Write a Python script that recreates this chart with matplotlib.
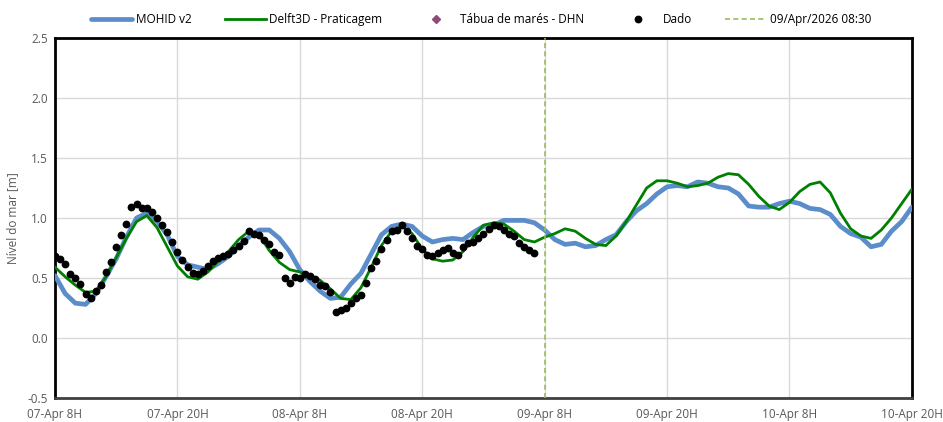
# -*- coding: utf-8 -*-
''' Nivel do mar: MOHID x Delft3D x dado observado
'''

from matplotlib import pyplot as plt


# horas desde 07-Apr 8H
horas_modelo = list(range(85))

mohid = [0.52, 0.37, 0.29, 0.28, 0.37, 0.51, 0.66, 0.84, 1.00, 1.04,
         0.97, 0.86, 0.68, 0.61, 0.59, 0.57, 0.62, 0.68, 0.77, 0.84,
         0.90, 0.90, 0.83, 0.72, 0.57, 0.47, 0.39, 0.33, 0.34, 0.45,
         0.54, 0.70, 0.86, 0.93, 0.95, 0.93, 0.85, 0.80, 0.82, 0.83,
         0.82, 0.88, 0.93, 0.94, 0.98, 0.98, 0.98, 0.96, 0.90, 0.82,
         0.78, 0.79, 0.76, 0.77, 0.82, 0.86, 0.97, 1.06, 1.12, 1.20,
         1.26, 1.27, 1.26, 1.30, 1.29, 1.26, 1.25, 1.20, 1.10, 1.09,
         1.09, 1.12, 1.14, 1.12, 1.08, 1.07, 1.03, 0.93, 0.87, 0.84,
         0.76, 0.78, 0.89, 0.97, 1.09]

delft = [0.59, 0.51, 0.44, 0.38, 0.39, 0.51, 0.67, 0.83, 0.97, 1.02,
         0.92, 0.76, 0.60, 0.51, 0.49, 0.55, 0.64, 0.72, 0.82, 0.89,
         0.86, 0.73, 0.63, 0.57, 0.55, 0.52, 0.48, 0.41, 0.33, 0.32,
         0.42, 0.59, 0.77, 0.89, 0.93, 0.87, 0.74, 0.66, 0.64, 0.65,
         0.72, 0.84, 0.94, 0.96, 0.95, 0.89, 0.82, 0.80, 0.84, 0.87,
         0.91, 0.89, 0.83, 0.78, 0.77, 0.85, 0.97, 1.11, 1.25, 1.31,
         1.31, 1.29, 1.26, 1.27, 1.29, 1.34, 1.37, 1.36, 1.28, 1.18,
         1.10, 1.07, 1.13, 1.22, 1.28, 1.30, 1.21, 1.04, 0.91, 0.85,
         0.83, 0.90, 1.00, 1.12, 1.24]

# dado observado, a cada meia hora
horas_dado = [i * 0.5 for i in range(95)]
dado = [0.68, 0.66, 0.62, 0.53, 0.50, 0.45, 0.37, 0.33, 0.39, 0.44,
        0.55, 0.63, 0.76, 0.86, 0.95, 1.09, 1.12, 1.08, 1.08, 1.05,
        1.00, 0.94, 0.88, 0.80, 0.72, 0.65, 0.59, 0.54, 0.53, 0.56,
        0.60, 0.64, 0.67, 0.68, 0.70, 0.73, 0.77, 0.81, 0.89, 0.87,
        0.86, 0.82, 0.78, 0.72, 0.69, 0.50, 0.46, 0.51, 0.50, 0.53,
        0.52, 0.49, 0.44, 0.43, 0.38, 0.22, 0.23, 0.25, 0.29, 0.33,
        0.36, 0.46, 0.58, 0.64, 0.74, 0.82, 0.89, 0.90, 0.94, 0.89,
        0.83, 0.77, 0.74, 0.69, 0.68, 0.71, 0.73, 0.75, 0.71, 0.69,
        0.76, 0.79, 0.80, 0.83, 0.87, 0.91, 0.94, 0.93, 0.90, 0.87,
        0.85, 0.79, 0.76, 0.73, 0.71]

# tabua de mares (sem valores no periodo)
horas_tabua = []
tabua = []

ticks_h = [0, 12, 24, 36, 48, 60, 72, 84]
ticks_lab = ['07-Apr 8H', '07-Apr 20H', '08-Apr 8H', '08-Apr 20H',
             '09-Apr 8H', '09-Apr 20H', '10-Apr 8H', '10-Apr 20H']

agora_h = 48
agora_lab = '09/Apr/2026 08:30'


plt.rcParams['font.family'] = ['Open Sans', 'DejaVu Sans']
cinza = '#595959'

fig = plt.figure(figsize=(9.43, 4.22), dpi=100)
ax = fig.add_axes([0.0583, 0.0569, 0.9087, 0.8531])

ax.plot(horas_modelo, mohid, color='#5B8DCB', lw=3.4, label='MOHID v2',
        solid_capstyle='round', zorder=3)
ax.plot(horas_modelo, delft, color='#008000', lw=2.0, label='Delft3D - Praticagem',
        zorder=4)
ax.plot(horas_tabua, tabua, ls='none', marker='D', ms=4, color='#8E4A78',
        label=u'Tábua de marés - DHN')
ax.plot(horas_dado, dado, ls='none', marker='o', ms=4.6, color='black',
        label='Dado', zorder=5)
ax.axvline(agora_h, color='#9BBB59', lw=1.2, ls=(0, (3, 2)), label=agora_lab,
           zorder=6)

ax.set_xlim(0, 84)
ax.set_ylim(-0.5, 2.5)
ax.set_xticks(ticks_h)
ax.set_xticklabels(ticks_lab)
ax.set_yticks([-0.5, 0.0, 0.5, 1.0, 1.5, 2.0, 2.5])
ax.set_yticklabels(['-0.5', '0.0', '0.5', '1.0', '1.5', '2.0', '2.5'])
ax.grid(True, color='#D9D9D9', lw=1)
ax.set_axisbelow(True)
ax.tick_params(length=0, labelsize=8.5, labelcolor=cinza)
ax.tick_params(axis='x', pad=7)
ax.tick_params(axis='y', pad=5)

for lado in ['top', 'right', 'left', 'bottom']:
    ax.spines[lado].set_linewidth(2)
    ax.spines[lado].set_color('black')
ax.spines['bottom'].set_color('#404040')

ax.set_ylabel(u'Nível do mar [m]', fontsize=8.5, color=cinza, labelpad=6)

fig.legend(loc='upper center', bbox_to_anchor=(0.51, 0.995), ncol=5,
           frameon=False, fontsize=8.5, columnspacing=2.8, handlelength=3.5,
           handletextpad=0.3)

fig.savefig('out.png', dpi=100)
